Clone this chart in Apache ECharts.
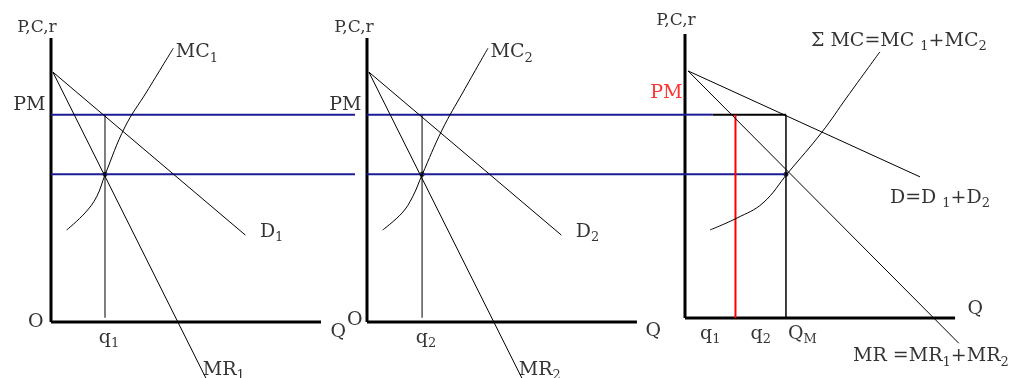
<!DOCTYPE html>
<html>
<head>
<meta charset="utf-8">
<script src="https://cdn.jsdelivr.net/npm/echarts@6/dist/echarts.min.js"></script>
<style>
  html, body { margin: 0; padding: 0; background: #fff; }
  #chart { width: 1027px; height: 378px; }
</style>
</head>
<body>
<div id="chart"></div>
<script>
// price levels shared by all three panels
const pM = 7.3;   // monopoly price PM
const pC = 5.2;   // level where MR = MC

// firm 1  [Q, P]
const d1 = [[0.07, 8.8], [7.2, 3.06]];
const mr1 = [[0.07, 8.8], [5.75, -2.0]];
const mc1 = [[0.58, 3.24], [1.26, 3.84], [1.69, 4.41], [2.0, 5.18], [2.74, 6.87], [3.54, 8.1], [4.53, 9.64]];
const q1 = 2.0;

// firm 2
const d2 = [[0.07, 8.8], [7.2, 3.06]];
const mr2 = [[0.07, 8.8], [5.75, -2.0]];
const mc2 = [[0.58, 3.24], [1.3, 3.84], [1.69, 4.41], [2.04, 5.18], [2.78, 6.76], [3.56, 8.1], [4.48, 9.64]];
const q2 = 2.04;

// market (sum of both firms)
const dM = [[0.12, 8.84], [9.31, 5.11]];
const mrM = [[0.12, 8.84], [10.85, -0.75]];
const mcM = [[0.99, 3.24], [2.06, 3.66], [3.09, 4.19], [4.08, 5.25], [5.43, 6.69], [6.42, 7.92], [7.72, 9.51]];
const qM = 4.0;
const qRed = 2.0;
const mktTickQ = [1.0, 3.0];
const mktTickText = ['q{s|1}', 'q{s|2}'];

// axis extents per panel [Q end, P bottom, P top], and full Q range of each grid
const axQ = [10, 10, 10.7];
const axP0 = [0, 0, 0.14];
const axP1 = [10, 10, 10.14];
const gridQ = [11.26, 11.78, 12.48];
const blueStop = 1.1;

const chart = echarts.init(document.getElementById('chart'));
const serif = 'DejaVu Serif';
const blue = '#1c1c96';
const rich = { s: { fontSize: 13, fontFamily: serif, padding: [12, 0, 0, 0] } };

function curve(i, data, opts) {
  return Object.assign({
    type: 'line', xAxisIndex: i, yAxisIndex: i, data: data,
    symbol: 'none', clip: false, silent: true,
    lineStyle: { color: '#000', width: 1 }
  }, opts || {});
}
function tag(i, point, text, label) {
  return {
    type: 'scatter', xAxisIndex: i, yAxisIndex: i, data: [point],
    symbolSize: 1, itemStyle: { color: 'rgba(0,0,0,0)' }, silent: true, clip: false,
    label: Object.assign({
      show: true, formatter: text, color: '#000', fontSize: 19, fontFamily: serif, rich: rich
    }, label)
  };
}
function dot(i, point) {
  return { type: 'scatter', xAxisIndex: i, yAxisIndex: i, data: [point], symbolSize: 5,
    itemStyle: { color: '#000' }, silent: true };
}
function hidden(i, min, max) {
  return { gridIndex: i, type: 'value', min: min, max: max, show: false };
}

const series = [];
// axes of the three panels
const qTag = [{ distance: 9, offset: [0, 10] }, { distance: 8, offset: [0, 9] }, { distance: 12, offset: [0, -9] }];
const pTag = [{ distance: 1, offset: [-14, 0] }, { distance: 1, offset: [-13, 0] }, { distance: 4, offset: [-9, 0] }];
[0, 1, 2].forEach(function (i) {
  series.push(curve(i, [[0, axP0[i]], [axQ[i], axP0[i]]], { lineStyle: { color: '#000', width: 3 } }));
  series.push(curve(i, [[0, axP0[i]], [0, axP1[i]]], { lineStyle: { color: '#000', width: 3 } }));
  series.push(tag(i, [axQ[i], axP0[i]], 'Q', Object.assign({ position: 'right' }, qTag[i])));
  series.push(tag(i, [0, axP1[i]], 'P,C,r', Object.assign({ position: 'top', fontSize: 17 }, pTag[i])));
});

const firms = [
  { d: d1, mr: mr1, mc: mc1, q: q1, n: '1', oDist: 7, oOff: [0, 0] },
  { d: d2, mr: mr2, mc: mc2, q: q2, n: '2', oDist: 4, oOff: [0, -2] }
];
firms.forEach(function (f, i) {
  series.push(curve(i, [[0, pM], [gridQ[i], pM]], { lineStyle: { color: blue, width: 2 } }));
  series.push(curve(i, [[0, pC], [gridQ[i], pC]], { lineStyle: { color: blue, width: 2 } }));
  series.push(curve(i, [[f.q, pM], [f.q, 0.15]]));
  series.push(curve(i, f.d));
  series.push(curve(i, f.mr));
  series.push(curve(i, f.mc, { smooth: 0.4 }));
  series.push(dot(i, [f.q, pC]));
  series.push(tag(i, [0, 0], 'O', { position: 'left', distance: f.oDist, offset: f.oOff }));
  series.push(tag(i, [0, pM], 'PM', { position: 'left', distance: 5, offset: [0, -10] }));
  series.push(tag(i, f.mc[f.mc.length - 1], 'MC{s|' + f.n + '}', { position: 'right', distance: 2, offset: [0, 4] }));
  series.push(tag(i, f.d[f.d.length - 1], 'D{s|' + f.n + '}', { position: 'right', distance: 14, offset: [0, -3] }));
  series.push(tag(i, f.mr[f.mr.length - 1], 'MR{s|' + f.n + '}', { position: 'right', distance: 0, offset: [-4, -9] }));
  series.push(tag(i, [f.q, 0], 'q{s|' + f.n + '}', { position: 'bottom', distance: 3, offset: [4, 0] }));
});

// market panel
series.push(curve(2, [[0, pM], [blueStop, pM]], { lineStyle: { color: blue, width: 2 } }));
series.push(curve(2, [[blueStop, pM], [qM, pM]], { lineStyle: { color: '#000', width: 2 } }));
series.push(curve(2, [[0, pC], [qM, pC]], { lineStyle: { color: blue, width: 2 } }));
series.push(curve(2, [[qRed, 0.14], [qRed, pM]], { lineStyle: { color: '#ff0000', width: 2 } }));
series.push(curve(2, [[qM, 0.14], [qM, pM]], { lineStyle: { color: '#000', width: 1.5 } }));
series.push(curve(2, dM));
series.push(curve(2, mrM));
series.push(curve(2, mcM, { smooth: 0.4 }));
series.push(dot(2, [qM, pC]));
series.push(tag(2, [0, pM], 'PM', { position: 'left', distance: 2, offset: [0, -22], color: '#ff0000' }));
series.push(tag(2, mcM[mcM.length - 1], '\u03A3 MC=MC {s|1}+MC{s|2}', { position: 'top', distance: 0, offset: [19, 2] }));
series.push(tag(2, dM[dM.length - 1], 'D=D {s|1}+D{s|2}', { position: 'bottom', distance: 8, offset: [20, 0] }));
series.push(tag(2, mrM[mrM.length - 1], 'MR =MR{s|1}+MR{s|2}', { position: 'bottom', distance: 0, offset: [-28, 0] }));
mktTickQ.forEach(function (q, k) {
  series.push(tag(2, [q, 0.14], mktTickText[k], { position: 'bottom', distance: 3 }));
});
series.push(tag(2, [qM, 0.14], 'Q{s|M}', { position: 'bottom', distance: 3, align: 'left', offset: [2, 0] }));

chart.setOption({
  animation: false,
  backgroundColor: '#fff',
  grid: [
    { left: 51, top: 38, width: 304, height: 284 },
    { left: 367, top: 38, width: 318, height: 284 },
    { left: 685, top: 34, width: 315, height: 284 }
  ],
  xAxis: [hidden(0, 0, gridQ[0]), hidden(1, 0, gridQ[1]), hidden(2, 0, gridQ[2])],
  yAxis: [hidden(0, 0, 10), hidden(1, 0, 10), hidden(2, 0.14, 10.14)],
  series: series
});
</script>
</body>
</html>
